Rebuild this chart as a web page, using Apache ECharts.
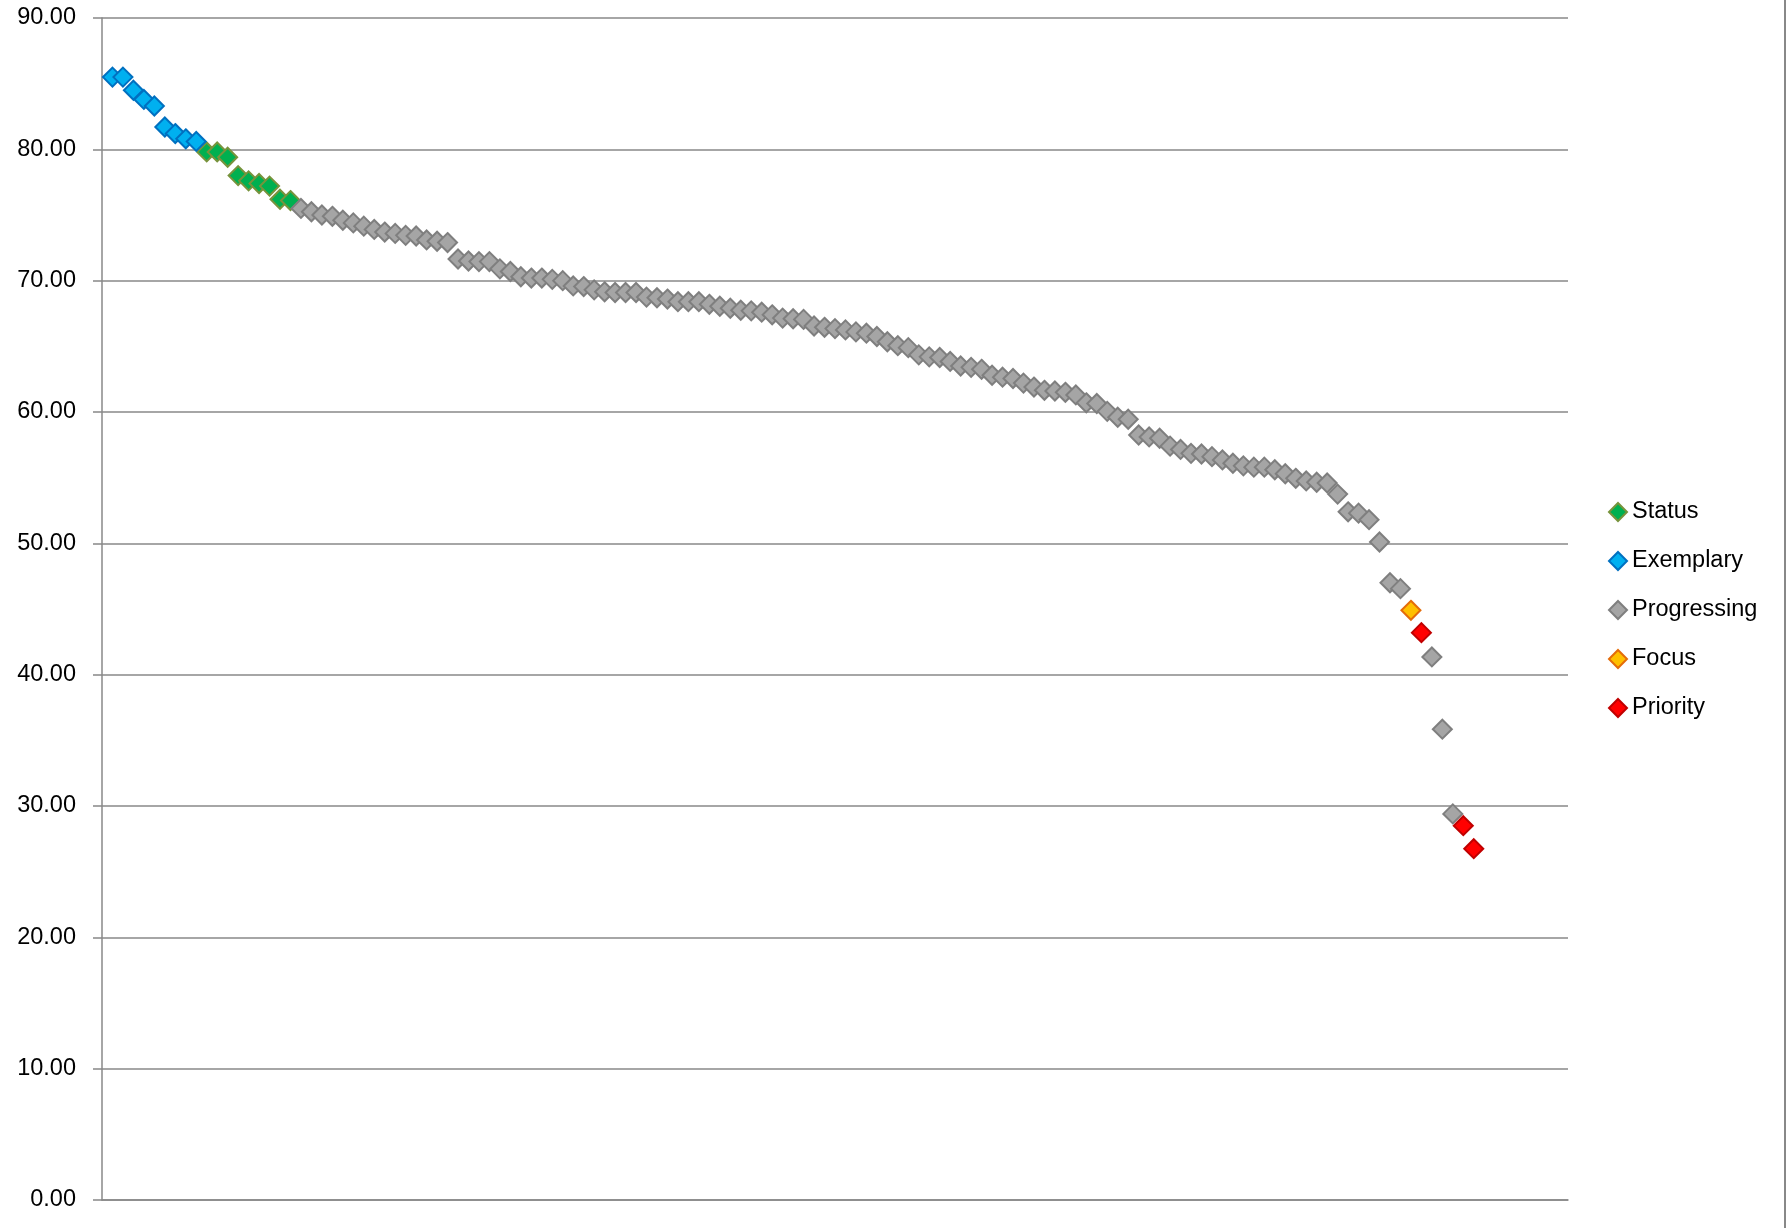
<!DOCTYPE html>
<html lang="en">
  <head>
    <meta charset="UTF-8" />
    <title>Scores</title>
    <script src="https://cdn.jsdelivr.net/npm/echarts@6/dist/echarts.min.js"></script>
    <style>
      html, body {
        margin: 0;
        padding: 0;
        background: #fff;
      }
      #main {
        width: 1791px;
        height: 1228px;
      }
    </style>
  </head>
  <body>
    <div id="main"></div>
    <script>
      // scores for each band (highest first)
      const exemplaryScores = [85.5, 85.5, 84.5, 83.8, 83.3, 81.7, 81.2, 80.8, 80.6];
      const statusScores = [79.8, 79.8, 79.4, 78.0, 77.6, 77.4, 77.2, 76.2, 76.1];
      const progressingScores = [
        75.5, 75.25, 75.0, 74.9, 74.6, 74.4, 74.15, 73.9, 73.7, 73.6, 73.45, 73.4, 73.1, 73.0, 72.9,
        71.65, 71.5, 71.45, 71.45, 70.9, 70.7, 70.3, 70.2, 70.2, 70.1, 70.0, 69.6, 69.55,
        69.3, 69.15, 69.1, 69.1, 69.1, 68.75, 68.7, 68.6, 68.4, 68.4, 68.4, 68.2, 68.05, 67.9, 67.75,
        67.7, 67.6, 67.4, 67.15, 67.1, 67.05, 66.55, 66.45, 66.35, 66.25, 66.1, 66.0, 65.75, 65.35, 65.05,
        64.9, 64.35, 64.2, 64.15, 63.85, 63.5, 63.4, 63.25, 62.8, 62.65, 62.55, 62.2, 61.9, 61.65, 61.6,
        61.5, 61.3, 60.7, 60.65, 60.05, 59.6, 59.45,
        58.25, 58.1, 58.0, 57.4, 57.15, 56.85, 56.8, 56.6, 56.35, 56.1, 55.9, 55.8, 55.8, 55.6, 55.3,
        54.95, 54.75, 54.65, 54.6, 53.75, 52.4, 52.3, 51.8,
        50.1, 47.0, 46.55, 41.35, 35.85, 29.4
      ];
      const focusScores = [44.9];
      const priorityScores = [43.2, 28.5, 26.75];

      const yTicks = [0, 10, 20, 30, 40, 50, 60, 70, 80, 90];

      const bands = [
        { name: "Status", values: statusScores, fill: "#00B050", edge: "#77933C" },
        { name: "Exemplary", values: exemplaryScores, fill: "#00B0F0", edge: "#0070C0" },
        { name: "Progressing", values: progressingScores, fill: "#A5A5A5", edge: "#7F7F7F" },
        { name: "Focus", values: focusScores, fill: "#FFC000", edge: "#E46C0A" },
        { name: "Priority", values: priorityScores, fill: "#FF0000", edge: "#C00000" },
      ];

      // rank every score, highest = 1
      let all = [];
      bands.forEach((b) => {
        b.values.forEach((v) => {
          all.push({ v: v, band: b.name });
        });
      });
      all.sort((a, b) => b.v - a.v);
      all.forEach((d, i) => {
        d.rank = i + 1;
      });

      let myChart = echarts.init(document.getElementById("main"));
      const font = "'Liberation Sans', 'DejaVu Sans', sans-serif";
      const lineGray = "#888888";

      let option = {
        backgroundColor: "#fff",
        animation: false,
        grid: { left: 102, top: 18, right: 223, bottom: 28 },
        legend: {
          orient: "vertical",
          left: 1603,
          top: 495,
          itemWidth: 18,
          itemHeight: 18,
          itemGap: 25,
          icon: "diamond",
          textStyle: { fontFamily: font, fontSize: 23.5, color: "#000" },
          data: bands.map((b) => b.name),
        },
        xAxis: {
          type: "value",
          min: 0,
          max: 140,
          axisLine: { show: true, lineStyle: { color: lineGray, width: 1.5 } },
          axisTick: { show: false },
          axisLabel: { show: false },
          splitLine: { show: false },
        },
        yAxis: {
          type: "value",
          min: yTicks[0],
          max: yTicks[yTicks.length - 1],
          interval: yTicks[1] - yTicks[0],
          axisLine: { show: true, lineStyle: { color: lineGray, width: 1.5 } },
          axisTick: { show: true, inside: false, length: 9, lineStyle: { color: lineGray, width: 1.5 } },
          axisLabel: {
            margin: 26,
            fontFamily: font,
            fontSize: 23.5,
            color: "#000",
            formatter: (v) => v.toFixed(2),
          },
          splitLine: { show: true, lineStyle: { color: lineGray, width: 1.5 } },
        },
        series: bands.map((b) => ({
          name: b.name,
          type: "scatter",
          symbol: "diamond",
          symbolSize: 19,
          itemStyle: { color: b.fill, borderColor: b.edge, borderWidth: 2, opacity: 1 },
          data: all.filter((d) => d.band === b.name).map((d) => [d.rank, d.v]),
        })),
        graphic: [
          {
            type: "line",
            shape: { x1: 1785, y1: 0, x2: 1785, y2: 1228 },
            style: { stroke: lineGray, lineWidth: 2 },
          },
        ],
      };
      myChart.setOption(option);
    </script>
  </body>
</html>
